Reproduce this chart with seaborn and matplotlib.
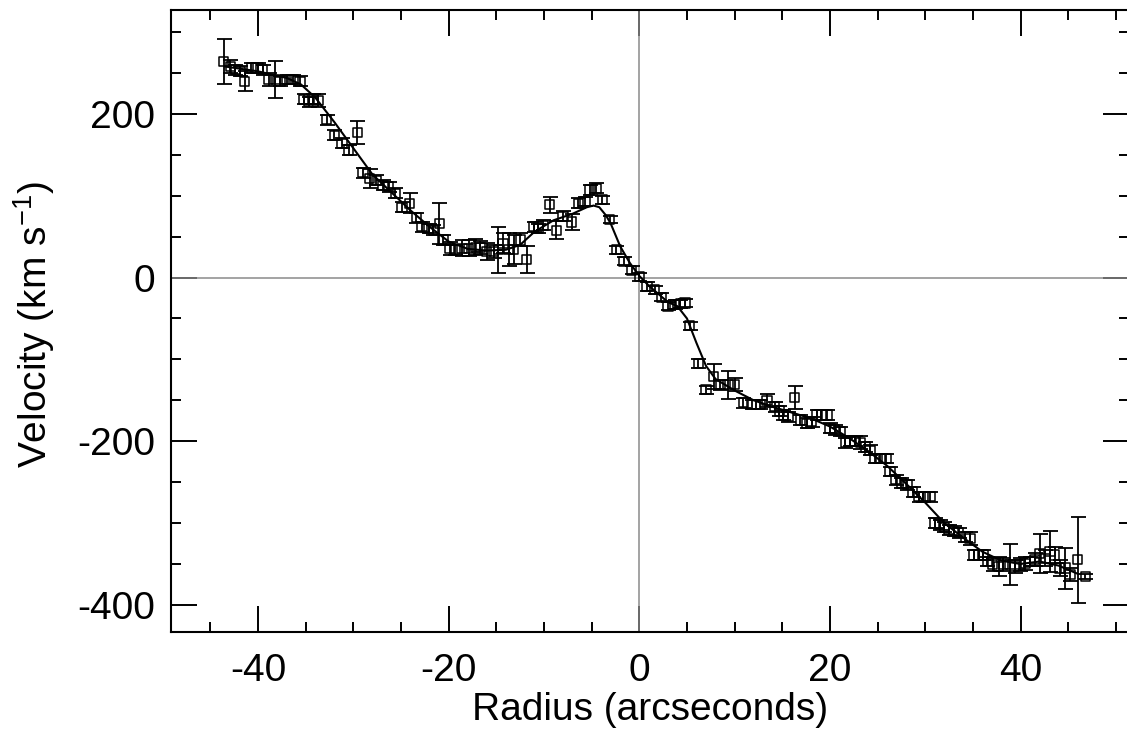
import matplotlib
matplotlib.use("Agg")
import matplotlib.pyplot as plt
import numpy as np
import pandas as pd
import seaborn as sns
from matplotlib.ticker import MultipleLocator

# Observed rotation curve (radius in arcsec, velocity in km/s, 1-sigma error)
radius = [-43.6, -42.9, -42.4, -41.9, -41.4, -40.7, -40.0, -39.5, -38.9, -38.2,
          -37.7, -37.0, -36.3, -35.6, -35.2, -34.7, -34.2, -33.7, -32.8, -32.0,
          -31.2, -30.5, -29.6, -29.0, -28.3, -27.6, -26.9, -26.3, -25.6, -24.9,
          -24.1, -23.4, -22.8, -22.1, -21.6, -21.0, -20.6, -19.9, -19.3, -18.6,
          -17.9, -17.2, -16.7, -16.0, -15.3, -14.8, -14.3, -13.7, -13.2, -12.5,
          -11.8, -11.1, -10.6, -10.1, -9.4, -8.7, -8.0, -7.1, -6.4, -5.7,
          -5.2, -4.5, -3.9, -3.1, -2.4, -1.6, -0.8, 0.0, 0.8, 1.6,
          2.3, 3.0, 3.7, 4.3, 4.8, 5.3, 6.2, 7.0, 7.8, 8.5,
          9.3, 10.0, 10.9, 11.8, 12.7, 13.4, 14.2, 14.7, 15.1, 15.6,
          16.3, 16.9, 17.6, 18.1, 18.6, 19.1, 19.7, 20.0, 20.5, 21.1,
          21.6, 22.1, 22.6, 23.2, 23.7, 24.2, 24.7, 25.3, 25.9, 26.3,
          26.9, 27.5, 28.1, 28.7, 29.3, 29.8, 30.5, 31.0, 31.5, 32.0,
          32.5, 33.0, 33.5, 34.2, 34.7, 35.1, 35.6, 36.1, 36.5, 37.1,
          37.7, 38.2, 38.9, 39.4, 39.9, 40.5, 41.0, 41.5, 42.0, 42.6,
          43.1, 43.6, 44.1, 44.7, 45.2, 46.0, 46.8]
velocity = [264, 258, 254, 252, 240, 256, 256, 254, 242, 242,
            240, 242, 242, 240, 218, 215, 218, 216, 193, 174,
            164, 156, 177, 128, 121, 119, 113, 111, 103, 86,
            91, 73, 62, 60, 58, 66, 46, 36, 34, 36,
            36, 37, 37, 32, 32, 34, 42, 34, 34, 46,
            22, 62, 60, 64, 89, 58, 75, 68, 91, 93,
            107, 109, 95, 71, 34, 20, 9, 1, -11, -15,
            -24, -35, -33, -32, -31, -59, -105, -137, -121, -131,
            -131, -131, -153, -155, -155, -150, -158, -163, -168, -170,
            -147, -174, -178, -176, -168, -168, -168, -184, -186, -188,
            -202, -200, -200, -202, -207, -211, -221, -221, -221, -237,
            -247, -251, -253, -262, -268, -268, -268, -300, -302, -305,
            -308, -310, -312, -317, -319, -339, -339, -339, -347, -351,
            -353, -351, -351, -353, -351, -349, -347, -345, -337, -343,
            -335, -339, -355, -355, -363, -345, -365]
error = [28, 8, 6, 6, 12, 6, 6, 6, 8, 23,
         6, 6, 6, 6, 6, 6, 6, 8, 6, 6,
         6, 6, 14, 6, 12, 6, 6, 6, 6, 6,
         12, 6, 6, 6, 6, 25, 6, 8, 6, 10,
         10, 10, 8, 10, 8, 28, 12, 20, 18, 8,
         16, 6, 6, 6, 10, 11, 6, 10, 6, 6,
         6, 6, 5, 4, 5, 5, 5, 5, 5, 5,
         5, 5, 5, 5, 5, 5, 5, 5, 15, 6,
         17, 8, 6, 6, 6, 8, 6, 6, 6, 6,
         14, 6, 6, 6, 6, 6, 6, 6, 6, 6,
         6, 6, 6, 8, 6, 6, 6, 6, 6, 6,
         6, 6, 6, 6, 6, 6, 6, 6, 6, 6,
         6, 6, 6, 6, 8, 6, 6, 6, 6, 8,
         12, 8, 25, 8, 8, 8, 6, 8, 24, 10,
         25, 10, 10, 25, 8, 53, 3]

# Model (fitted) curve
model_radius = [-43.5, -40, -37, -35.5, -34, -32, -30, -28, -26, -24,
                -22, -20, -18, -16, -14, -12.5, -11, -9, -7, -5.5,
                -4.8, -4.2, -3.5, -3, -2, -1, 0, 1, 2, 3,
                4, 5, 6, 7, 8, 10, 12, 14, 16, 18,
                20, 22, 24, 26, 28, 30, 32, 34, 36, 38,
                40, 42, 44, 46]
model_velocity = [258, 252, 244, 236, 220, 190, 158, 126, 104, 82,
                  62, 44, 35, 33, 34, 40, 56, 70, 78, 86,
                  88, 86, 76, 66, 38, 18, 2, -10, -20, -30,
                  -35, -50, -80, -108, -124, -138, -150, -158, -165, -172,
                  -182, -196, -212, -230, -252, -275, -300, -318, -335, -346,
                  -350, -347, -352, -362]

sns.set_theme(style="ticks")
plt.rcParams['font.family'] = ['Liberation Sans', 'DejaVu Sans']
plt.rcParams['mathtext.default'] = 'regular'
plt.rcParams['axes.unicode_minus'] = False

W, H = 1127, 745
fig = plt.figure(figsize=(W / 100, H / 100), dpi=100)
ax = fig.add_axes([171 / W, (H - 632.3) / H, (1128.5 - 171) / W, 622.3 / H])

ax.axhline(0, color='#8a8a8a', lw=1.1, zorder=1)
ax.axvline(0, color='#8a8a8a', lw=1.1, zorder=1)

model_df = pd.DataFrame({'radius': model_radius, 'velocity': model_velocity})
obs_df = pd.DataFrame({'radius': radius, 'velocity': velocity, 'error': error})

sns.lineplot(data=model_df, x='radius', y='velocity', color='black', lw=1.5,
             ax=ax, sort=False, zorder=2, legend=False)
ax.errorbar(obs_df['radius'], obs_df['velocity'], yerr=obs_df['error'], fmt='none',
            ecolor='black', elinewidth=1.3, capsize=5.4, capthick=1.3, zorder=3)
sns.scatterplot(data=obs_df, x='radius', y='velocity', marker='s', s=44,
                facecolor='none', edgecolor='black', linewidth=1.1, ax=ax,
                zorder=4, legend=False)

ax.set_xlim(-49.14, 51.33)
ax.set_ylim(-433.5, 327)
ax.xaxis.set_major_locator(MultipleLocator(20))
ax.xaxis.set_minor_locator(MultipleLocator(5))
ax.yaxis.set_major_locator(MultipleLocator(200))
ax.yaxis.set_minor_locator(MultipleLocator(50))
ax.tick_params(which='both', direction='in', top=True, right=True, width=1.4,
               color='black', labelsize=28, labelcolor='black')
ax.tick_params(axis='x', which='both', pad=15)
ax.tick_params(axis='y', which='both', pad=11.5)
ax.tick_params(which='major', length=18.7)
ax.tick_params(which='minor', length=7.2)
for s in ax.spines.values():
    s.set_linewidth(1.5)
    s.set_color('black')

ax.set_xlabel('Radius (arcseconds)', fontsize=28, color='black')
ax.set_ylabel('Velocity (km s$^{-1}$)', fontsize=28, color='black')
ax.yaxis.set_label_coords(-0.1194, 0.495)
ax.xaxis.set_label_coords(0.5, -0.096)

fig.savefig('out.png', dpi=100)
